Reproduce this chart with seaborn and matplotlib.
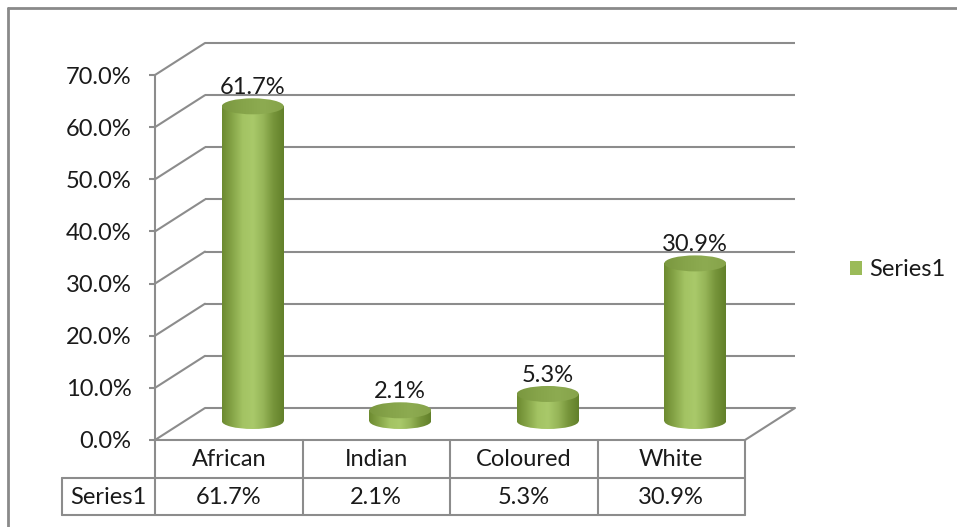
import numpy as np
import pandas as pd
import matplotlib
matplotlib.use("Agg")
import matplotlib.pyplot as plt
import seaborn as sns
from matplotlib.patches import Ellipse, Patch
from matplotlib.lines import Line2D
from matplotlib.colors import LinearSegmentedColormap
from matplotlib.transforms import blended_transform_factory

# ---- data ----
categories = ["African", "Indian", "Coloured", "White"]
values = [61.7, 2.1, 5.3, 30.9]
series_name = "Series1"
y_ticks = [0, 10, 20, 30, 40, 50, 60, 70]
y_tick_labels = [f"{t:.1f}%" for t in y_ticks]

sns.set_theme(style="white")
plt.rcParams["font.family"] = ["Lato", "DejaVu Sans"]

W, H = 957, 527
fig = plt.figure(figsize=(W / 100, H / 100), dpi=100)
fig.patch.set_facecolor("white")


def px_axes(x0, y_top, x1, y_bot):
    return fig.add_axes([x0 / W, 1 - y_bot / H, (x1 - x0) / W, (y_bot - y_top) / H])


GRID = "#8c8c8c"
LW = 1.5
TXT = "#1a1a1a"
FS = 17
PPU = 5.1  # pixels per percent on the mid-depth plane

n = len(categories)
ax_back = px_axes(205, 43, 795, 408)
ax_front = px_axes(155, 75, 745, 440)
ax_mid = px_axes(179, 421 - 70 * PPU, 769, 421 + 5 * PPU)
for a in (ax_back, ax_front):
    a.set_xlim(-0.5, n - 0.5)
    a.set_ylim(0, 70)
    a.patch.set_visible(False)

# back wall gridlines
ax_back.axis("off")
ax_back.hlines(y_ticks, -0.5, n - 0.5, color=GRID, lw=LW, clip_on=False)

# front axis
for s in ("top", "right"):
    ax_front.spines[s].set_visible(False)
for s in ("left", "bottom"):
    ax_front.spines[s].set_color(GRID)
    ax_front.spines[s].set_linewidth(LW)
ax_front.set_yticks(y_ticks)
ax_front.set_yticklabels(y_tick_labels)
ax_front.set_xticks([])
ax_front.tick_params(axis="y", direction="out", length=4, width=LW, color=GRID,
                     pad=13, labelsize=FS, labelcolor=TXT, left=True)

# diagonals connecting front axis and back wall
to_fig = fig.transFigure.inverted()
segs = [(-0.5, t) for t in y_ticks] + [(n - 0.5, 0)]
for (xv, yv) in segs:
    p0 = to_fig.transform(ax_front.transData.transform((xv, yv)))
    p1 = to_fig.transform(ax_back.transData.transform((xv, yv)))
    fig.add_artist(Line2D([p0[0], p1[0]], [p0[1], p1[1]], transform=fig.transFigure,
                          color=GRID, lw=LW, solid_capstyle="round"))

# cylinders
df = pd.DataFrame({"category": categories, "value": values})
bw = 62 / 147.5
sns.barplot(data=df, x="category", y="value", ax=ax_mid, width=bw, color="#9bbb59",
            saturation=1)
body_cmap = LinearSegmentedColormap.from_list(
    "cyl", ["#6c8a30", "#86a548", "#a3c363", "#a9c96a", "#96b558", "#76943a", "#62802a"])
top_cmap = LinearSegmentedColormap.from_list("top", ["#7a973f", "#86a44a", "#8dab51", "#86a34a"])
eh = 16 / PPU
grad = np.linspace(0, 1, 256).reshape(1, -1)
for p, v in zip(list(ax_mid.patches), values):
    x0 = p.get_x()
    w = p.get_width()
    xc = x0 + w / 2
    p.set_facecolor("none")
    p.set_edgecolor("none")
    im = ax_mid.imshow(grad, extent=(x0, x0 + w, -eh, v + eh), aspect="auto",
                       cmap=body_cmap, zorder=2, interpolation="bilinear")
    im.set_clip_path(p)
    bot = Ellipse((xc, 0), w, eh, facecolor="none", edgecolor="none")
    ax_mid.add_patch(bot)
    im2 = ax_mid.imshow(grad, extent=(x0, x0 + w, -eh, v + eh), aspect="auto",
                        cmap=body_cmap, zorder=2, interpolation="bilinear")
    im2.set_clip_path(bot)
    top = Ellipse((xc, v), w, eh, facecolor="none", edgecolor="none")
    ax_mid.add_patch(top)
    im3 = ax_mid.imshow(grad, extent=(x0, x0 + w, v - eh, v + eh), aspect="auto",
                        cmap=top_cmap, zorder=3, interpolation="bilinear")
    im3.set_clip_path(top)
    ax_mid.annotate(f"{v:.1f}%", xy=(xc, v), xytext=(0, 12), textcoords="offset pixels",
                    ha="center", va="baseline", fontsize=FS, color=TXT)

ax_mid.set_xlim(-0.5, n - 0.5)
ax_mid.set_ylim(-5, 70)
ax_mid.axis("off")
ax_mid.patch.set_visible(False)

# data table below the front axis (x in category units, y in axes fraction)
tr = blended_transform_factory(ax_front.transData, ax_front.transAxes)
ax_h = 365.0
def fy(py):
    return (440 - py) / ax_h
y_r0, y_r1, y_r2 = fy(440), fy(478), fy(515)
x_left = -0.5 + (62 - 155) / 147.5
line_kw = dict(color=GRID, lw=LW, transform=tr, clip_on=False)
for xb in np.arange(-0.5, n, 1.0):
    ax_front.add_line(Line2D([xb, xb], [y_r0, y_r2], **line_kw))
ax_front.add_line(Line2D([x_left, x_left], [y_r1, y_r2], **line_kw))
ax_front.add_line(Line2D([x_left, n - 0.5], [y_r1, y_r1], **line_kw))
ax_front.add_line(Line2D([x_left, n - 0.5], [y_r2, y_r2], **line_kw))
for j, c in enumerate(categories):
    ax_front.text(j, fy(460), c, transform=tr, ha="center", va="center",
                  fontsize=FS, color=TXT, clip_on=False)
    ax_front.text(j, fy(497), f"{values[j]:.1f}%", transform=tr, ha="center",
                  va="center", fontsize=FS, color=TXT, clip_on=False)
ax_front.text((x_left - 0.5) / 2, fy(497), series_name, transform=tr, ha="center",
              va="center", fontsize=FS, color=TXT, clip_on=False)

# legend
fig.legend(handles=[Patch(facecolor="#9bbb59", edgecolor="none", label=series_name)],
           loc="center left", bbox_to_anchor=(850 / W, 1 - 270 / H), frameon=False,
           fontsize=FS, handlelength=0.5, handleheight=0.5, handletextpad=0.3,
           borderpad=0, borderaxespad=0, labelcolor=TXT)

# outer chart border (cut at right and bottom)
fig.add_artist(Line2D([8 / W, 1], [1 - 8 / H, 1 - 8 / H], transform=fig.transFigure,
                      color="#8a8a8a", lw=2))
fig.add_artist(Line2D([8 / W, 8 / W], [1 - 8 / H, 0], transform=fig.transFigure,
                      color="#8a8a8a", lw=2))

fig.savefig("out.png", dpi=100, facecolor="white")
